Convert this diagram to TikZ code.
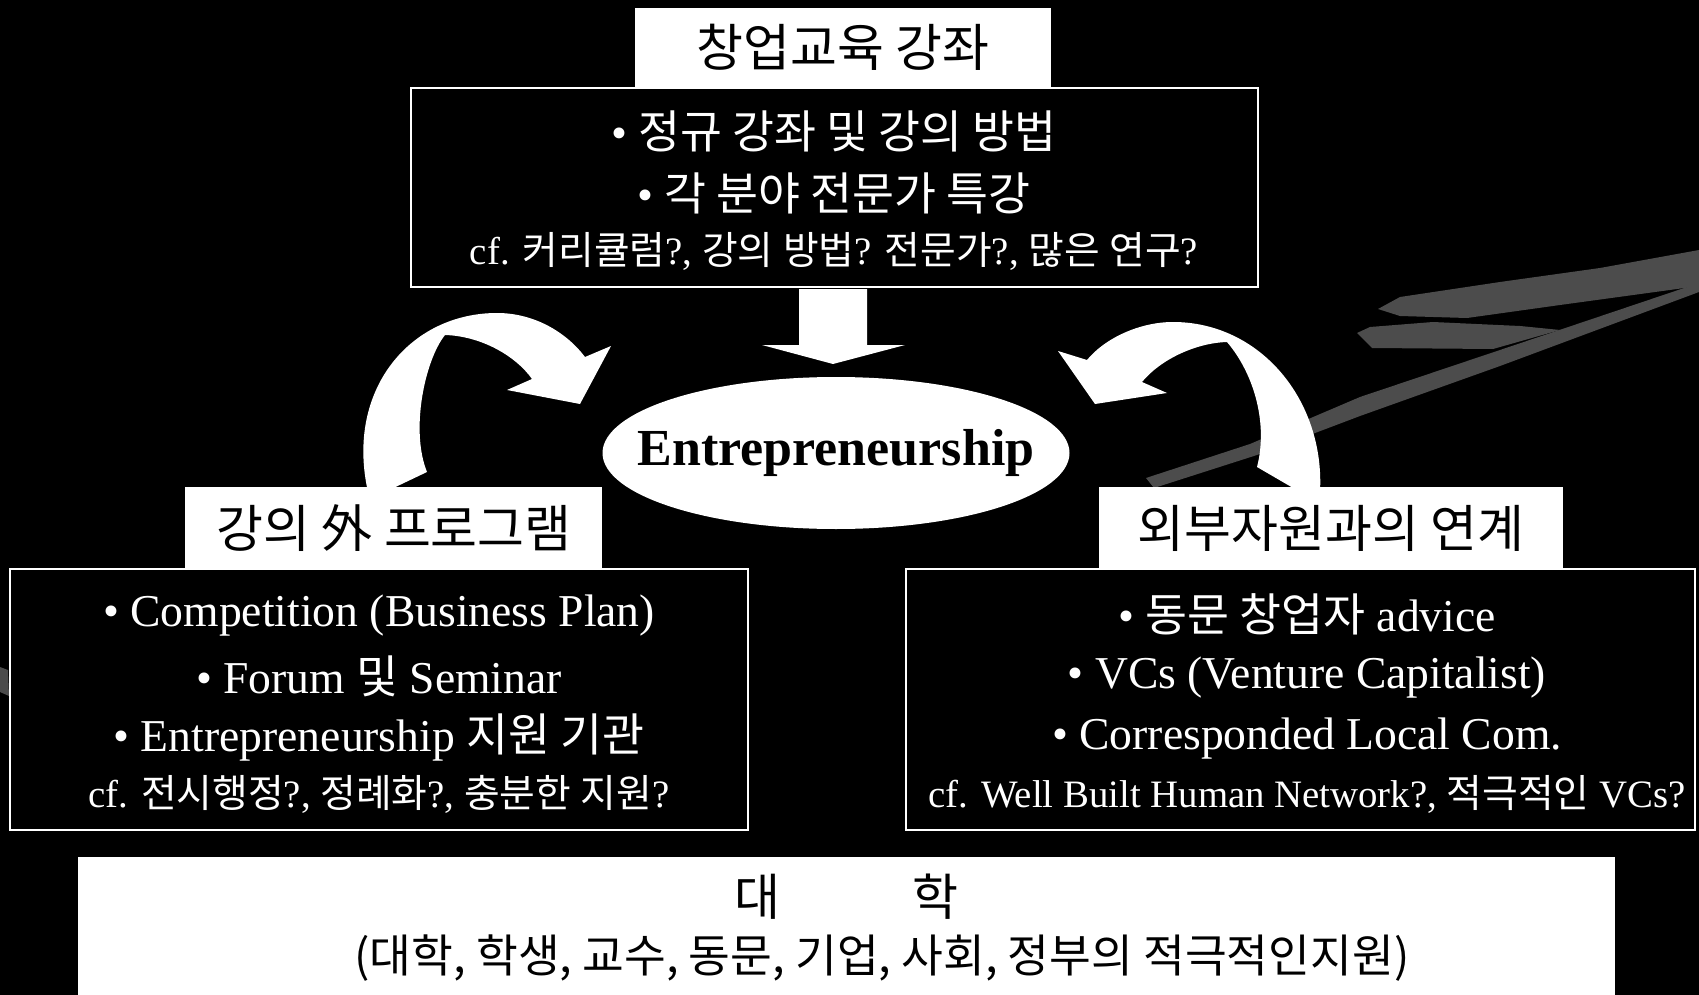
\documentclass[tikz,border=0pt]{standalone}
\usepackage{fontspec}
\setmainfont{Liberation Serif}
\newfontfamily\kr{Noto Sans CJK KR}

\begin{document}
\begin{tikzpicture}[x=0.5pt,y=-0.5pt,
    panel/.style={draw=white, line width=1.2pt, fill=black},
    tab/.style={fill=white},
    tabtext/.style={text=black, inner sep=0pt, font=\fontsize{25.5}{30}\selectfont\kr},
    item/.style={text=white, inner sep=0pt, font=\fontsize{22.8}{27}\selectfont},
    note/.style={text=white, inner sep=0pt, font=\fontsize{19.4}{23}\selectfont},
    streak/.style={fill=black!70},
    arcshape/.style={fill=white}]
    \useasboundingbox (0,0) rectangle (1699,995);
    \fill [black] (0,0) rectangle (1699,995);

    % background streaks
    \fill [streak] (1146,478) -- (1250,444) -- (1360,397) -- (1500,350) -- (1699,283)
        -- (1699,292) -- (1500,366) -- (1360,416) -- (1257,455) -- (1154,488) -- cycle;
    \fill [streak] (1378,309) -- (1400,297) -- (1500,282) -- (1600,268) -- (1699,250)
        -- (1699,286) -- (1560,305) -- (1467,318) -- (1400,316) -- cycle;
    \fill [streak] (1357,333) -- (1370,327) -- (1433,322) -- (1520,326) -- (1560,330)
        -- (1493,349) -- (1372,348) -- cycle;
    \fill [streak] (0,667) -- (8,670) -- (9,696) -- (0,692) -- cycle;

    % curved arrows
    \fill [arcshape] (368,492) .. controls (345,390) and (410,313) .. (497,313)
        .. controls (535,313) and (567,333) .. (585,357) -- (611,346) -- (580,404)
        -- (507,390) -- (532,379) .. controls (515,355) and (480,336) .. (445,335)
        .. controls (425,360) and (410,430) .. (427,472) -- (385,492) -- cycle;
    \fill [arcshape] (1320,492) .. controls (1325,400) and (1260,322) .. (1173,322)
        .. controls (1140,322) and (1105,338) .. (1087,360) -- (1058,351) -- (1095,404)
        -- (1167,393) -- (1142,382) .. controls (1160,360) and (1195,343) .. (1227,342)
        .. controls (1255,375) and (1268,425) .. (1257,467) -- (1300,492) -- cycle;

    % down arrow
    \fill [arcshape] (799,289) -- (867,289) -- (867,345) -- (905,345) -- (833,364)
        -- (762,345) -- (799,345) -- cycle;

    % centre
    \fill [white] (836,453) ellipse [x radius=233.5, y radius=76];
    \node [inner sep=0pt, font=\fontsize{26}{30}\selectfont\bfseries] (core) at (836,453) {Entrepreneurship};

    % lectures
    \draw [panel] (411,88) rectangle (1258,287);
    \fill [tab] (635,8) rectangle (1051,89);
    \node [tabtext] (lecttitle) at (843,47) {창업교육 강좌};
    \node [item] (lect1) at (834,131) {\textbullet\ {\kr 정규 강좌 및 강의 방법}};
    \node [item] (lect2) at (834,193) {\textbullet\ {\kr 각 분야 전문가 특강}};
    \node [note] (lectcf) at (834,251) {cf. {\kr 커리큘럼}?, {\kr 강의} {\kr 방법}? {\kr 전문가}?, {\kr 많은} {\kr 연구}?};

    % programs
    \draw [panel] (10,569) rectangle (748,830);
    \fill [tab] (185,487) rectangle (602,569);
    \node [tabtext] (progtitle) at (394,528) {강의 外 프로그램};
    \node [item] (prog1) at (379,616) {\textbullet\ Competition (Business Plan)};
    \node [item] (prog2) at (379,676) {\textbullet\ Forum {\kr 및} Seminar};
    \node [item] (prog3) at (379,737) {\textbullet\ Entrepreneurship {\kr 지원 기관}};
    \node [note] (progcf) at (379,794) {cf. {\kr 전시행정}?, {\kr 정례화}?, {\kr 충분한} {\kr 지원}?};

    % outside resources
    \draw [panel] (906,569) rectangle (1695,830);
    \fill [tab] (1099,487) rectangle (1563,569);
    \node [tabtext] (extitle) at (1331,528) {외부자원과의 연계};
    \node [item] (ex1) at (1307,614) {\textbullet\ {\kr 동문 창업자} advice};
    \node [item] (ex2) at (1307,678) {\textbullet\ VCs (Venture Capitalist)};
    \node [item] (ex3) at (1307,739) {\textbullet\ Corresponded Local Com.};
    \node [note] (excf) at (1307,794) {cf. Well Built Human Network?, {\kr 적극적인} VCs?};

    % university
    \fill [white] (78,857) rectangle (1615,995);
    \node [tabtext, font=\fontsize{25}{30}\selectfont\kr] (univ) at (846,897) {대\hspace{66pt}학};
    \node [tabtext, font=\fontsize{22.7}{27}\selectfont\kr] (univsub) at (882,958) {(대학, 학생, 교수, 동문, 기업, 사회, 정부의 적극적인지원)};
\end{tikzpicture}
\end{document}
